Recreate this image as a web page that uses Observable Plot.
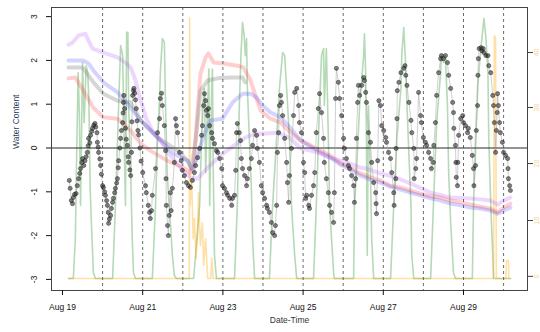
<!DOCTYPE html>
<html><head><meta charset="utf-8">
<script src="https://cdn.jsdelivr.net/npm/d3@7"></script>
<script src="https://cdn.jsdelivr.net/npm/@observablehq/plot@0.6"></script>
<style>body{margin:0;background:#fff}</style>
</head><body><div id="chart"></div>
<script>
// time = day of August (decimal), value = scaled water content
const xTickDays = [19, 21, 23, 25, 27, 29];
const dayLines = [20, 21, 22, 23, 24, 25, 26, 27, 28, 29, 30];
const yTicks = [-3, -2, -1, 0, 1, 2, 3];
const rainTickPos = [-2.93, -1.655, -0.354, 0.925, 2.18];
const rainTickLabels = ["0", "10", "20", "30", "40"];

const obs = [[19.17,-0.74],[19.19,-0.92],[19.22,-1.20],[19.25,-1.27],[19.27,-1.13],[19.30,-1.06],[19.34,-1.04],[19.37,-0.86],[19.40,-0.70],[19.43,-0.58],[19.45,-0.47],[19.48,-0.33],[19.50,-0.24],[19.53,-0.40],[19.56,-0.29],[19.59,-0.20],[19.62,-0.10],[19.64,0.05],[19.65,0.22],[19.68,0.12],[19.70,0.29],[19.73,0.38],[19.75,0.45],[19.78,0.52],[19.81,0.56],[19.83,0.48],[19.86,0.35],[19.87,0.13],[19.89,0.02],[19.90,-0.10],[19.93,-0.25],[19.95,-0.40],[19.97,-0.60],[20.00,-0.86],[20.02,-0.90],[20.05,-1.00],[20.07,-1.08],[20.10,-1.20],[20.12,-1.31],[20.14,-1.47],[20.15,-1.72],[20.17,-1.62],[20.20,-1.54],[20.22,-1.38],[20.25,-1.24],[20.27,-1.15],[20.30,-1.02],[20.32,-0.92],[20.35,-0.80],[20.37,-0.70],[20.39,-0.45],[20.40,-0.29],[20.43,0.00],[20.45,0.22],[20.47,0.40],[20.50,0.58],[20.51,0.80],[20.52,1.04],[20.53,1.20],[20.55,0.90],[20.57,0.45],[20.59,0.20],[20.62,0.06],[20.64,-0.20],[20.65,-0.33],[20.68,-0.50],[20.70,-0.63],[20.72,-0.10],[20.73,0.60],[20.75,1.20],[20.77,1.31],[20.78,1.36],[20.80,1.25],[20.82,1.10],[20.84,0.90],[20.86,0.62],[20.88,0.40],[20.90,0.30],[20.93,0.00],[20.96,-0.30],[21.00,-0.56],[21.07,-0.86],[21.09,-1.02],[21.14,-1.31],[21.17,-1.47],[21.19,-1.61],[21.22,-1.43],[21.24,-1.08],[21.32,-0.47],[21.37,0.35],[21.42,0.67],[21.44,1.13],[21.47,1.25],[21.49,0.97],[21.54,0.51],[21.57,-0.06],[21.58,-0.70],[21.59,-1.31],[21.62,-1.77],[21.64,-2.00],[21.66,-1.54],[21.69,-1.02],[21.71,-1.43],[21.74,-0.92],[21.79,-0.33],[21.82,0.67],[21.84,0.51],[21.87,0.35],[21.92,-0.10],[21.96,-0.29],[21.99,-0.51],[22.04,-0.63],[22.09,-0.79],[22.14,-0.86],[22.19,-0.90],[22.24,-0.74],[22.29,-0.56],[22.32,-0.40],[22.37,-0.22],[22.42,-0.01],[22.47,0.29],[22.49,0.51],[22.52,0.97],[22.54,1.24],[22.57,1.08],[22.59,0.86],[22.62,0.74],[22.64,0.90],[22.67,0.51],[22.72,0.35],[22.74,0.22],[22.79,0.10],[22.84,-0.06],[22.87,-0.10],[22.92,-0.24],[22.97,-0.47],[22.99,-0.86],[23.04,-0.92],[23.09,-1.02],[23.12,-1.08],[23.17,-1.15],[23.22,-1.31],[23.24,-1.15],[23.29,-1.08],[23.32,-0.51],[23.34,0.35],[23.36,0.56],[23.41,0.35],[23.44,0.17],[23.46,-0.24],[23.49,-0.47],[23.54,-0.63],[23.59,-0.86],[23.61,-0.70],[23.66,-0.47],[23.71,-0.24],[23.74,0.06],[23.79,0.40],[23.84,0.29],[23.86,-0.01],[23.91,-0.33],[23.96,-0.86],[23.99,-1.02],[24.04,-1.15],[24.09,-1.31],[24.11,-1.38],[24.16,-1.47],[24.21,-1.70],[24.24,-1.93],[24.29,-2.00],[24.31,-1.77],[24.34,-1.31],[24.36,-0.10],[24.39,0.35],[24.41,0.97],[24.44,1.20],[24.46,1.04],[24.49,0.74],[24.54,0.22],[24.59,-0.33],[24.61,-0.79],[24.64,-1.24],[24.66,-0.63],[24.71,-0.01],[24.76,0.74],[24.79,1.27],[24.84,1.36],[24.89,0.97],[24.91,0.58],[24.96,0.35],[25.01,-0.33],[25.04,-0.56],[25.06,-1.15],[25.09,-1.08],[25.14,-1.31],[25.16,-1.38],[25.21,-1.08],[25.26,-0.86],[25.29,-0.56],[25.33,0.35],[25.38,0.90],[25.41,1.24],[25.46,0.81],[25.51,0.22],[25.53,-0.33],[25.58,-0.70],[25.63,-1.02],[25.66,-1.31],[25.71,-1.47],[25.76,-1.70],[25.78,-1.02],[25.81,1.13],[25.83,1.82],[25.88,1.50],[25.91,1.13],[25.96,0.74],[26.01,0.22],[26.03,-0.01],[26.08,-0.24],[26.13,-0.40],[26.16,-0.47],[26.21,-0.63],[26.26,-0.86],[26.28,-1.24],[26.31,-0.70],[26.33,0.22],[26.36,1.04],[26.38,1.43],[26.41,1.20],[26.46,1.43],[26.51,1.61],[26.53,1.54],[26.56,1.27],[26.58,1.04],[26.63,0.35],[26.68,0.13],[26.71,-0.33],[26.76,-0.79],[26.81,-1.02],[26.82,-1.27],[26.83,-1.50],[26.86,-0.29],[26.89,1.08],[26.93,0.97],[26.96,0.51],[27.01,0.40],[27.06,0.24],[27.08,0.13],[27.13,-0.10],[27.18,-0.24],[27.21,-0.56],[27.26,-1.02],[27.27,-1.31],[27.31,-0.70],[27.32,-0.01],[27.34,0.67],[27.35,1.31],[27.39,1.50],[27.44,1.72],[27.51,1.82],[27.54,1.88],[27.56,1.66],[27.59,1.43],[27.64,1.04],[27.69,0.63],[27.71,0.35],[27.76,-0.01],[27.77,-0.70],[27.81,-0.47],[27.83,-0.24],[27.88,1.27],[27.93,0.74],[27.95,0.58],[28.00,0.24],[28.05,0.13],[28.08,0.06],[28.13,-0.10],[28.18,-0.24],[28.20,-0.47],[28.25,-0.33],[28.26,0.06],[28.30,0.58],[28.33,1.20],[28.38,1.72],[28.43,2.04],[28.45,2.11],[28.50,2.04],[28.55,2.11],[28.60,1.95],[28.63,1.66],[28.68,1.36],[28.73,1.04],[28.75,0.81],[28.76,0.45],[28.80,0.06],[28.81,-0.33],[28.82,-0.67],[28.85,-0.86],[28.86,-0.33],[28.88,0.29],[28.93,0.67],[28.98,0.74],[29.00,0.58],[29.05,0.51],[29.10,0.35],[29.12,0.45],[29.17,0.24],[29.22,-0.17],[29.25,-0.47],[29.26,-0.86],[29.30,-0.40],[29.32,0.40],[29.35,0.97],[29.36,1.66],[29.37,2.04],[29.39,2.27],[29.44,2.29],[29.46,2.22],[29.49,2.27],[29.51,2.18],[29.56,2.11],[29.61,2.11],[29.63,1.88],[29.68,1.72],[29.73,1.20],[29.75,0.97],[29.77,0.58],[29.80,-0.10],[29.82,0.40],[29.84,0.81],[29.85,1.24],[29.87,0.97],[29.90,0.58],[29.92,0.35],[29.97,0.13],[30.00,-0.10],[30.05,-0.17],[30.10,-0.24],[30.11,-0.47],[30.12,-0.70],[30.15,-0.86],[30.17,-0.97]];

const light = [[19.15,-2.98],[19.27,-2.98],[19.32,-2.07],[19.36,0.22],[19.39,1.72],[19.42,0.80],[19.45,-1.31],[19.50,1.95],[19.54,0.58],[19.59,1.88],[19.63,1.72],[19.66,1.00],[19.69,-0.92],[19.72,-1.70],[19.77,-2.84],[19.82,-2.98],
[20.25,-2.98],[20.32,-1.31],[20.40,0.97],[20.45,2.34],[20.50,2.11],[20.53,0.58],[20.57,-1.31],[20.60,2.64],[20.63,2.64],[20.65,0.97],[20.70,-0.56],[20.74,-2.07],[20.77,-2.84],[20.82,-2.98],
[21.24,-2.98],[21.32,-1.31],[21.37,0.22],[21.42,1.13],[21.44,1.72],[21.49,2.50],[21.54,2.41],[21.57,0.97],[21.61,-0.56],[21.66,-1.31],[21.69,-1.70],[21.74,-2.45],[21.79,-2.91],[21.84,-2.98],
[22.27,-2.98],[22.42,-1.31],[22.49,0.97],[22.54,1.36],[22.57,-0.56],[22.62,0.97],[22.65,1.80],[22.67,-1.31],[22.72,1.36],[22.74,1.80],[22.76,-0.56],[22.79,-2.45],[22.84,-2.98],
[23.29,-2.98],[23.36,-1.31],[23.41,0.97],[23.45,2.11],[23.47,2.50],[23.49,2.87],[23.53,2.57],[23.56,2.11],[23.59,2.50],[23.61,1.36],[23.66,0.22],[23.71,-0.92],[23.74,-2.07],[23.79,-2.98],
[24.16,-2.98],[24.24,-1.31],[24.34,0.22],[24.41,1.36],[24.49,2.18],[24.54,2.11],[24.59,1.36],[24.66,0.22],[24.71,-1.31],[24.79,-2.45],[24.84,-2.98],
[25.26,-2.98],[25.33,-1.31],[25.41,0.97],[25.46,2.11],[25.51,2.27],[25.53,0.97],[25.58,2.27],[25.63,0.22],[25.66,-1.31],[25.71,-2.07],[25.76,-2.84],[25.78,-2.98],
[26.26,-2.98],[26.28,-1.31],[26.33,-0.56],[26.41,0.97],[26.51,2.11],[26.53,2.61],[26.56,1.72],[26.58,0.22],[26.60,-2.45],[26.63,0.97],[26.68,-0.56],[26.71,-2.07],[26.76,-2.98],
[27.18,-2.98],[27.26,-1.31],[27.34,0.22],[27.44,1.36],[27.46,2.11],[27.51,2.75],[27.56,1.88],[27.59,0.97],[27.64,-0.17],[27.69,-1.31],[27.71,-2.45],[27.76,-2.98],
[28.18,-2.98],[28.25,-1.31],[28.33,0.58],[28.43,1.72],[28.45,2.11],[28.50,1.95],[28.55,2.04],[28.60,0.97],[28.63,-0.56],[28.68,-1.70],[28.75,-2.84],[28.80,-2.98],
[29.22,-2.98],[29.25,-1.31],[29.30,0.22],[29.35,1.36],[29.44,2.34],[29.51,2.96],[29.56,2.50],[29.61,1.72],[29.63,0.22],[29.68,-1.31],[29.73,-2.45],[29.75,-2.98],[30.17,-2.98]];

const rain = [[19.15,-2.98],[22.16,-2.98],[22.17,2.97],[22.18,-1.31],[22.22,-0.70],[22.26,-2.07],[22.29,-1.61],[22.33,-2.52],[22.37,-1.93],[22.39,-1.02],[22.44,-2.23],[22.49,-1.70],[22.52,-2.68],[22.57,-2.07],[22.62,-2.98],[22.70,-2.98],[22.72,-2.52],[22.76,-2.98],[29.75,-2.98],[29.77,2.57],[29.80,2.50],[29.82,-2.98],[30.06,-2.98],[30.07,-2.57],[30.12,-2.57],[30.13,-2.98],[30.17,-2.98]];

const sensorRed = [[19.15,1.59],[19.32,1.61],[19.52,1.31],[19.77,0.92],[20.02,0.70],[20.37,0.67],[20.70,0.40],[20.95,0.10],[21.19,-0.06],[21.62,-0.29],[22.02,-0.45],[22.19,-0.56],[22.27,-0.40],[22.37,0.86],[22.44,1.70],[22.57,2.07],[22.64,2.16],[22.77,1.95],[23.02,1.93],[23.36,1.88],[23.51,1.84],[23.69,1.54],[23.81,1.20],[23.94,0.86],[24.19,0.67],[24.44,0.58],[24.69,0.35],[24.94,0.17],[25.19,0.06],[25.43,-0.06],[25.68,-0.17],[25.93,-0.35],[26.18,-0.45],[26.43,-0.58],[26.68,-0.67],[26.93,-0.74],[27.18,-0.86],[27.43,-0.90],[27.68,-0.97],[27.93,-1.04],[28.18,-1.10],[28.43,-1.13],[28.68,-1.20],[28.93,-1.24],[29.17,-1.29],[29.42,-1.34],[29.67,-1.38],[29.85,-1.47],[30.00,-1.36],[30.17,-1.27]];
const sensorGray = [[19.15,1.84],[19.45,1.84],[19.52,1.82],[19.77,1.50],[20.02,1.24],[20.37,1.08],[20.70,1.04],[20.95,0.63],[21.37,0.24],[21.87,-0.06],[22.12,-0.29],[22.22,-0.47],[22.32,0.17],[22.44,1.31],[22.62,1.54],[22.87,1.59],[23.19,1.61],[23.49,1.61],[23.56,1.50]];
const sensorBlue = [[19.15,2.00],[19.32,2.00],[19.52,2.00],[19.65,1.93],[19.77,1.77],[20.02,1.50],[20.37,1.27],[20.70,0.92],[20.95,0.63],[21.37,0.24],[21.77,-0.13],[22.12,-0.29],[22.24,-0.51],[22.37,-0.17],[22.52,0.29],[22.69,0.63],[22.99,0.67],[23.24,1.04],[23.49,1.24],[23.69,1.24],[23.84,1.15],[23.99,0.97],[24.19,0.81],[24.44,0.70],[24.69,0.45],[24.94,0.17],[25.19,0.03],[25.43,-0.10],[25.68,-0.22],[25.93,-0.38],[26.18,-0.49],[26.43,-0.63],[26.68,-0.72],[26.93,-0.79],[27.18,-0.88],[27.43,-0.95],[27.68,-1.02],[27.93,-1.08],[28.18,-1.15],[28.43,-1.20],[28.68,-1.27],[28.93,-1.31],[29.17,-1.36],[29.42,-1.38],[29.67,-1.43],[29.85,-1.50],[30.00,-1.43],[30.17,-1.36]];
const sensorPurple = [[19.15,2.36],[19.25,2.41],[19.40,2.57],[19.57,2.61],[19.65,2.45],[19.75,2.27],[20.02,2.18],[20.37,2.07],[20.57,1.95],[20.70,1.84],[20.82,1.54],[20.95,1.08],[21.09,0.67],[21.24,0.40],[21.44,0.17],[21.69,-0.17],[21.94,-0.45],[22.19,-0.67],[22.37,-0.70],[22.62,-0.45],[22.94,-0.17],[23.24,0.03],[23.56,0.24],[23.81,0.33],[24.06,0.33],[24.34,0.35],[24.66,0.24],[24.94,-0.01],[25.19,-0.06],[25.43,-0.13],[25.68,-0.22],[26.08,-0.33],[26.43,-0.45],[26.58,-0.47],[26.93,-0.58],[27.30,-0.67],[27.68,-0.81],[28.18,-1.02],[28.68,-1.13],[29.17,-1.15],[29.67,-1.20],[29.85,-1.29],[30.00,-1.20],[30.17,-1.13]];

const dt = d => new Date(Date.UTC(2016, 7, 1) + (d - 1) * 864e5);
const toRows = arr => arr.map(([d, v]) => ({t: dt(d), v}));
const F = "'Liberation Sans', Arial, sans-serif";

const smooth = (arr, color, op) => Plot.line(toRows(arr), {x: "t", y: "v", stroke: color, strokeOpacity: op, strokeWidth: 4, curve: "linear"});

const chart = Plot.plot({
  width: 540, height: 332,
  marginLeft: 51, marginRight: 13, marginTop: 7, marginBottom: 42,
  style: {fontFamily: F, fontSize: "8.5px", background: "white", color: "#111"},
  x: {type: "utc", domain: [dt(18.7257), dt(30.596)]},
  y: {domain: [-3.253, 3.208]},
  marks: [
    Plot.line(toRows(light), {x: "t", y: "v", stroke: "forestgreen", strokeOpacity: 0.33, strokeWidth: 1.6}),
    Plot.line(toRows(rain), {x: "t", y: "v", stroke: "orange", strokeOpacity: 0.35, strokeWidth: 1.6}),
    smooth(sensorRed, "red", 0.19),
    smooth(sensorGray, "gray", 0.32),
    smooth(sensorBlue, "blue", 0.17),
    smooth(sensorPurple, "#a020f0", 0.18),
    Plot.ruleX(dayLines.map(dt), {stroke: "#444", strokeDasharray: "3,3", strokeWidth: 0.8}),
    Plot.ruleY([0], {stroke: "#111", strokeWidth: 0.9}),
    Plot.line(toRows(obs), {x: "t", y: "v", stroke: "#999", strokeOpacity: 0.6, strokeWidth: 0.8}),
    Plot.dot(toRows(obs), {x: "t", y: "v", r: 2.1, fill: "#333", fillOpacity: 0.6, stroke: "#111", strokeOpacity: 0.7, strokeWidth: 0.6}),
    Plot.frame({stroke: "#444", strokeWidth: 1}),
    Plot.axisX(xTickDays.map(dt), {tickSize: 5, tickPadding: 8, tickFormat: d3.utcFormat("%b %d"), label: null, fontSize: 8.5}),
    Plot.axisY(yTicks, {tickSize: 5, tickFormat: () => "", label: null}),
    Plot.text(yTicks, {y: d => d, frameAnchor: "left", dx: -17, rotate: -90, text: d => String(d), textAnchor: "middle", lineAnchor: "middle", fontSize: 8.5}),
    Plot.axisY(rainTickPos, {anchor: "right", tickSize: 5, tickFormat: () => "", label: null, stroke: "#444"}),
    Plot.text(rainTickPos, {y: d => d, frameAnchor: "right", dx: 9, rotate: -90, text: (d, i) => rainTickLabels[i], textAnchor: "middle", lineAnchor: "middle", fill: "#f2d39c", fontSize: 7}),
    Plot.text(["Water Content"], {frameAnchor: "left", dx: -35, rotate: -90, fill: "#2b3f63", fontSize: 8.5}),
    Plot.text(["Date-Time"], {frameAnchor: "bottom", dy: 32, fill: "#333", fontSize: 8.5})
  ]
});
document.getElementById("chart").appendChild(chart);
</script>
</body></html>
